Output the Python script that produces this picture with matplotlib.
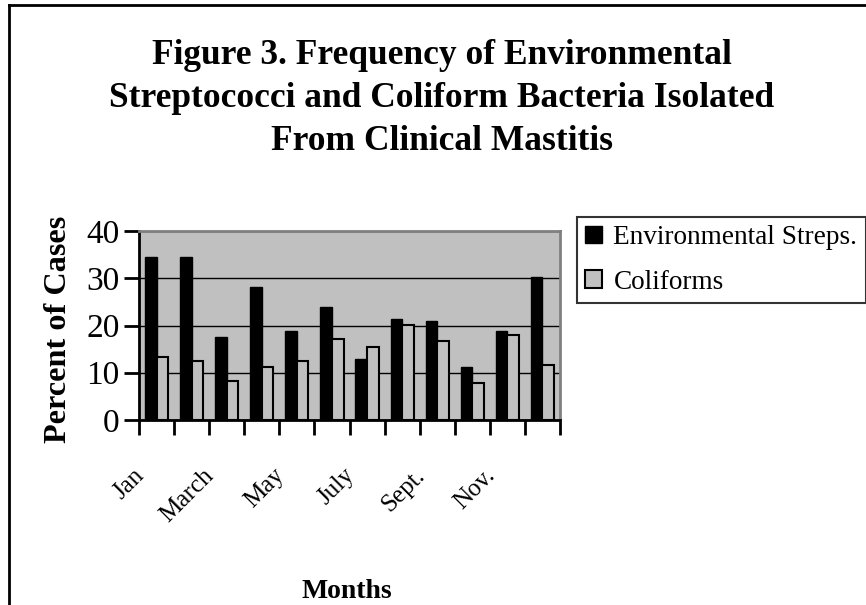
import matplotlib.pyplot as plt
import matplotlib.transforms as mtransforms
from matplotlib.lines import Line2D
import numpy as np

plt.rcParams['font.family'] = ['Liberation Serif', 'DejaVu Serif']

# Data
months = ['Jan', 'Feb', 'March', 'April', 'May', 'June', 'July', 'Aug',
          'Sept.', 'Oct.', 'Nov.', 'Dec.']
streps = [34.5, 34.5, 17.6, 28.1, 18.8, 23.9, 12.9, 21.4, 21.0, 11.2, 18.8, 30.3]
coliforms = [13.3, 12.4, 8.2, 11.2, 12.4, 17.1, 15.4, 20.1, 16.7, 7.8, 18.0, 11.6]
# Only every other month is labelled on the axis
shown_labels = ['Jan', '', 'March', '', 'May', '', 'July', '', 'Sept.', '', 'Nov.', '']

fig = plt.figure(figsize=(8.66, 6.05), dpi=100)
ax = fig.add_axes([139 / 866, 1 - 420 / 605, (560 - 139) / 866, (420 - 231) / 605])

x = np.arange(len(months))
w = 0.33
ax.set_facecolor('#c0c0c0')
ax.set_axisbelow(True)
ax.bar(x - w / 2, streps, w, color='black', edgecolor='black', linewidth=1,
       label='Environmental Streps.')
ax.bar(x + w / 2, coliforms, w, color='#c0c0c0', edgecolor='black', linewidth=1.5,
       label='Coliforms')

ax.set_xlim(-0.5, len(months) - 0.5)
ax.set_ylim(0, 40)
ax.set_yticks([0, 10, 20, 30, 40])
ax.yaxis.grid(True, color='black', linewidth=1)
ax.set_xticks(np.arange(len(months) + 1) - 0.5, minor=True)
ax.set_xticks(x)
ax.set_xticklabels(shown_labels, rotation=45, ha='right', va='center',
                   rotation_mode='anchor', fontsize=18)
ax.tick_params(axis='x', which='major', length=0, pad=0)
ax.tick_params(axis='x', which='minor', length=11, width=2, direction='out')
ax.tick_params(axis='y', length=11, width=2, direction='out', labelsize=24, pad=3)
offset = mtransforms.ScaledTranslation(-0.16, -0.52, fig.dpi_scale_trans)
for lbl in ax.get_xticklabels():
    lbl.set_transform(lbl.get_transform() + offset)

for side in ['left', 'bottom']:
    ax.spines[side].set_linewidth(2)
    ax.spines[side].set_color('black')
for side in ['top', 'right']:
    ax.spines[side].set_linewidth(2)
    ax.spines[side].set_color('#808080')

ax.set_ylabel('Percent of Cases', fontsize=23.2, fontweight='bold')
ax.yaxis.set_label_coords((73 - 139) / 421, 0.48)
fig.text(347 / 866, 1 - 591 / 605, 'Months', fontsize=20, fontweight='bold',
         ha='center', va='center')

fig.text(442 / 866, 1 - 99 / 605,
         'Figure 3. Frequency of Environmental\nStreptococci and Coliform Bacteria Isolated\nFrom Clinical Mastitis',
         fontsize=25.5, fontweight='bold', ha='center', va='center', linespacing=1.4)

leg = fig.legend(loc='upper left', bbox_to_anchor=(577 / 866, 1 - 217 / 605),
                 fontsize=19.6, frameon=True, fancybox=False, edgecolor='black',
                 handlelength=0.62, handleheight=0.62, handletextpad=0.42,
                 borderpad=0.3, labelspacing=0.72, borderaxespad=0)
leg.get_frame().set_linewidth(1.5)

# outer chart frame (cut off on the right and bottom)
fig.add_artist(Line2D([9 / 866, 9 / 866], [0, 1 - 5 / 605], color='black', linewidth=2,
                      transform=fig.transFigure))
fig.add_artist(Line2D([9 / 866, 1], [1 - 5 / 605, 1 - 5 / 605], color='black', linewidth=2,
                      transform=fig.transFigure))

fig.savefig('out.png', dpi=100)
